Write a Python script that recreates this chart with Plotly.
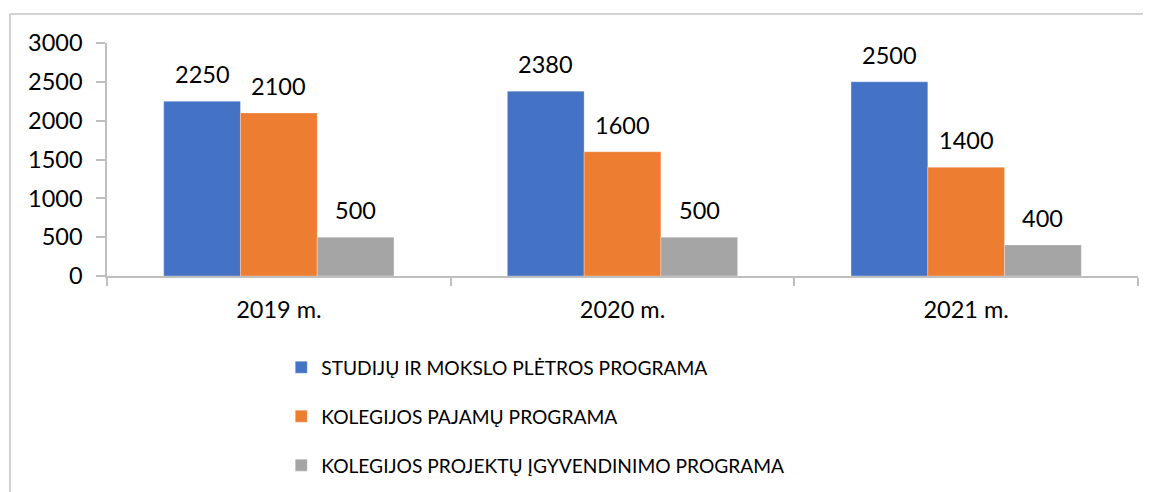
import plotly.graph_objects as go

categories = ["2019 m.", "2020 m.", "2021 m."]
series_names = [
    "STUDIJŲ IR MOKSLO PLĖTROS PROGRAMA",
    "KOLEGIJOS PAJAMŲ PROGRAMA",
    "KOLEGIJOS PROJEKTŲ ĮGYVENDINIMO PROGRAMA",
]
studiju = [2250, 2380, 2500]
pajamu = [2100, 1600, 1400]
projektu = [500, 500, 400]
colors = ["#4472C4", "#ED7D31", "#A5A5A5"]
y_ticks = [0, 500, 1000, 1500, 2000, 2500, 3000]

FONT = "Lato, 'Open Sans', sans-serif"
series_values = [studiju, pajamu, projektu]
bargap = 0.33
bar_w = (1 - bargap) / len(series_values)

fig = go.Figure()
for i, (name, vals, col) in enumerate(zip(series_names, series_values, colors)):
    fig.add_trace(go.Bar(
        x=categories, y=vals, name=name, legendgroup=f"g{i}",
        marker=dict(color=col, line=dict(color="rgba(255,255,255,0.5)", width=0.6)),
        hoverinfo="x+y+name",
    ))
    for ci, v in enumerate(vals):
        fig.add_annotation(
            x=ci + (i - 1) * bar_w, y=v, xref="x", yref="y",
            text=str(v), showarrow=False, yanchor="bottom", yshift=11,
            font=dict(family=FONT, size=23.5, color="#000000"),
        )

fig.add_shape(type="rect", xref="paper", yref="paper",
              x0=-0.0941, y0=-1.5, x1=1.2, y1=1.1245,
              line=dict(color="#A6A6A6", width=1), fillcolor="rgba(0,0,0,0)", layer="below")

# page body adds an 8px offset; figure sized so it fills the 1151x492 window
fig.update_layout(
    width=1143, height=484,
    margin=dict(l=99, r=13, t=35, b=216, autoexpand=False),
    paper_bgcolor="white", plot_bgcolor="white",
    barmode="group", bargap=bargap, bargroupgap=0,
    font=dict(family=FONT, size=23.5, color="#000000"),
    showlegend=True,
    legend=dict(
        orientation="v", x=0.169, xanchor="left", y=-0.31, yanchor="top",
        font=dict(family=FONT, size=19.2, color="#000000"),
        tracegroupgap=21, itemwidth=30, bgcolor="rgba(0,0,0,0)",
    ),
    xaxis=dict(
        type="category", showgrid=False, showline=True, linecolor="#BFBFBF", linewidth=1.5,
        ticks="outside", tickson="boundaries", ticklen=8, tickcolor="#BFBFBF", tickwidth=1.5,
        ticklabelstandoff=12,
        tickfont=dict(family=FONT, size=23.5, color="#000000"), automargin=False,
    ),
    yaxis=dict(
        range=[0, 3000], tickvals=y_ticks, showgrid=False, zeroline=False,
        showline=True, linecolor="#BFBFBF", linewidth=1.5,
        ticks="outside", ticklen=9, tickcolor="#BFBFBF", tickwidth=1.5,
        ticklabelstandoff=9, automargin=False,
        tickfont=dict(family=FONT, size=23.5, color="#000000"),
    ),
)

fig.write_html("out.html")
